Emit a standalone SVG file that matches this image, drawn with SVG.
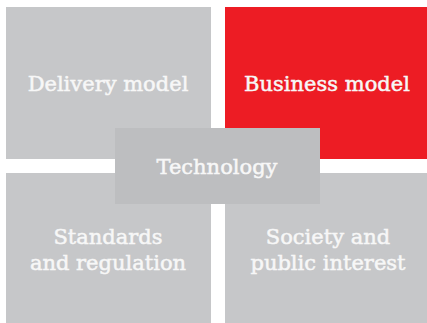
<svg xmlns="http://www.w3.org/2000/svg" width="427" height="323" viewBox="0 0 427 323">
<style>
.box{fill:#c6c7c9}
.red{fill:#ed1c24}
.tech{fill:#bdbec0}
text{font-family:"DejaVu Serif","Liberation Serif",serif;font-size:21px;fill:#f7f7f7;stroke:#f7f7f7;stroke-width:0.5;text-anchor:middle}
</style>
<rect width="427" height="323" fill="#ffffff"/>
<g id="delivery"><rect class="box" x="6" y="7" width="205" height="152"/><text x="108" y="91">Delivery model</text></g>
<g id="business"><rect class="red" x="225" y="7" width="202" height="152"/><text x="327" y="91">Business model</text></g>
<g id="standards"><rect class="box" x="6" y="173" width="205" height="150"/><text x="108" y="244">Standards</text><text x="108" y="270">and regulation</text></g>
<g id="society"><rect class="box" x="225" y="173" width="202" height="150"/><text x="328" y="244">Society and</text><text x="328" y="270">public interest</text></g>
<g id="technology"><rect class="tech" x="115" y="128" width="205" height="76"/><text x="217" y="174">Technology</text></g>
<g id="connectors"></g>
</svg>
